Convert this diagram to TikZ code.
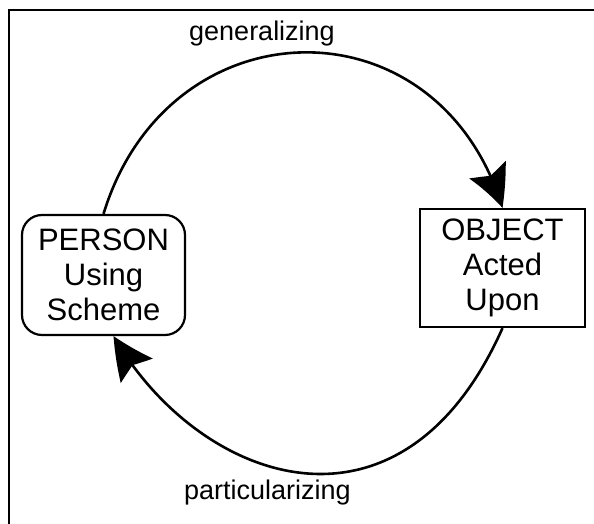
\documentclass[tikz,border=0pt]{standalone}
\usepackage{fontspec}
\setmainfont{Liberation Sans}
\usetikzlibrary{arrows.meta,bending}
\begin{document}
\begin{tikzpicture}[x=1pt,y=1pt,
  box/.style={draw, line width=2.2pt, minimum width=163pt, minimum height=120pt,
    align=center, inner sep=0pt, font=\fontsize{31}{35}\selectfont},
  cyc/.style={line width=2.6pt, -{Stealth[length=42pt,width=40pt,inset=7pt,bend]}},
  lbl/.style={font=\fontsize{27}{30}\selectfont, anchor=base}]
\useasboundingbox (0,0) rectangle (594,524);
% frame
\draw[line width=1.8pt] (9,0) -- (9,514) -- (594,514);
% the two ends of the cycle
\node[box, rounded corners=20pt] (person) at (103.5,249) {PERSON\\Using\\Scheme};
\node[box, minimum width=165pt, minimum height=118pt] (object) at (502.5,256) {OBJECT\\Acted\\Upon};
% labels of the two halves
\node[lbl] (gen) at (262,483) {generalizing};
\node[lbl] (part) at (267.5,24) {particularizing};
% the cycle
\draw[cyc] (person.north) .. controls +(73:221) and +(107:221) .. (object.north);
\draw[cyc] (object.south) .. controls +(246:250) and +(-60:170) .. ([xshift=10pt]person.south);
\end{tikzpicture}
\end{document}
